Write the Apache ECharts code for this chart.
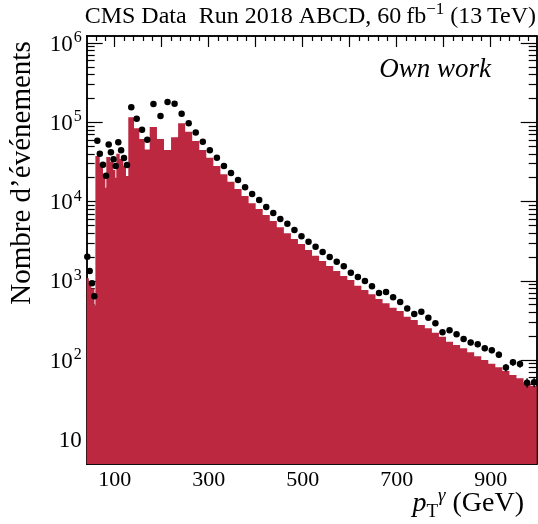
<!DOCTYPE html>
<html>
<head>
<meta charset="utf-8">
<script src="https://cdn.jsdelivr.net/npm/echarts@6/dist/echarts.min.js"></script>
<style>
html, body { margin: 0; padding: 0; background: #fff; }
#chart { width: 538px; height: 524px; }
</style>
</head>
<body>
<div id="chart"></div>
<script>
// bords des classes de la simulation (GeV) et nombre d'événements
var mcEdges = [40, 45, 50, 57, 59, 68.2, 75.2, 80.1, 82.2, 90.1, 97.1, 101.4, 103.5,
	110.7, 118.4, 124.1, 129, 141.2, 152.5, 164, 174.5, 190, 205, 220,
	235, 250, 265, 280, 295, 310, 325, 340, 355, 370, 385, 400, 415, 430, 445,
	460, 475, 490, 505, 520, 535, 550, 565, 580, 595, 610, 625, 640, 655, 670,
	685, 700, 715, 730, 745, 760, 775, 790, 805, 820, 835, 850, 865, 880, 895,
	910, 925, 940, 955, 970, 985, 1000];
var mcCounts = [1080, 940, 800, 490,
	37580, 30380, 21630, 14950,
	36490, 31830, 25010, 20000,
	40160, 34430, 28350, 21010,
	115660, 84000, 61540, 45380,
	87270, 61540, 44700,
	64680, 97140, 76110, 58070, 44730, 35750, 28090, 22070, 17810, 14400,
	11750, 9500, 8050, 6767, 5683, 4733, 3977, 3369, 2913, 2447,
	2073, 1777, 1538, 1329, 1150, 1023, 867, 766, 676, 589,
	520, 458, 416, 352, 320, 277, 252, 221, 197, 170,
	155, 141, 125, 112, 100, 90, 81, 73, 65, 59, 52, 47];

// points des données
var dataX = [41.8, 46.9, 51.8, 56.7,
	63.1, 68.4, 75.2, 81.6, 87.3, 92, 97.5, 102.2,
	107.7, 113.7, 119.9, 126.2, 135.4, 146.9, 158.2, 169.4,
	182.5, 197.5, 212.5, 227.5, 242.5, 257.5, 272.5, 287.5, 302.5, 317.5,
	332.5, 347.5, 362.5, 377.5, 392.5, 407.5, 422.5, 437.5, 452.5, 467.5,
	482.5, 497.5, 512.5, 527.5, 542.5, 557.5, 572.5, 587.5, 602.5, 617.5,
	632.5, 647.5, 662.5, 677.5, 692.5, 707.5, 722.5, 737.5, 752.5, 767.5,
	782.5, 797.5, 812.5, 827.5, 842.5, 857.5, 872.5, 887.5, 902.5, 917.5,
	932.5, 947.5, 962.5, 977.5, 992.5];
var dataY = [2014, 1329, 930, 637,
	58590, 40170, 29090, 21200, 52480, 41950, 34230, 28090,
	55920, 44460, 35440, 28920, 154680, 111000, 80640, 60310,
	170170, 120100, 180330, 171660, 128430, 97140, 74350, 56900, 44460, 35650,
	28090, 22930, 18700, 15120, 12450, 10460, 8535, 7172, 6023, 5254,
	4375, 3644, 3115, 2694, 2309, 1997, 1742, 1524, 1265, 1117,
	994, 852, 702, 722, 619, 540, 447, 381, 407, 341,
	291, 224, 237, 212, 184, 167, 158, 141, 133, 117,
	80.5, 93.7, 89.2, 51.9, 52.5];

// graduations
var xMajor = [100, 200, 300, 400, 500, 600, 700, 800, 900];
var xMinor = [60, 80, 120, 140, 160, 180, 220, 240, 260, 280, 320, 340, 360, 380,
	420, 440, 460, 480, 520, 540, 560, 580, 620, 640, 660, 680, 720, 740, 760, 780,
	820, 840, 860, 880, 920, 940, 960, 980];
var xLabels = [100, 300, 500, 700, 900];
var yMajor = [10, 100, 1000, 10000, 100000, 1000000];
var yMinor = [5, 6, 7, 8, 9, 20, 30, 40, 50, 60, 70, 80, 90,
	200, 300, 400, 500, 600, 700, 800, 900,
	2000, 3000, 4000, 5000, 6000, 7000, 8000, 9000,
	20000, 30000, 40000, 50000, 60000, 70000, 80000, 90000,
	200000, 300000, 400000, 500000, 600000, 700000, 800000, 900000];

var X_MIN = 40.5, X_MAX = 998;
var Y_MIN = 4.88, Y_MAX = 1.227e6;
var FONT = '"Liberation Serif", "DejaVu Serif", serif';
var RED = '#bd2841';

var chart = echarts.init(document.getElementById('chart'));

function xAx(pos, ticks, len, labels) {
	return {
		type: 'value', position: pos, min: X_MIN, max: X_MAX,
		splitLine: { show: false },
		axisLine: { show: true, onZero: false, lineStyle: { color: '#000', width: 1.5 } },
		axisTick: { show: true, inside: true, length: len, customValues: ticks,
			lineStyle: { color: '#000', width: 1.2 } },
		axisLabel: labels ? {
			show: true, customValues: labels, margin: 5,
			color: '#000', fontFamily: FONT, fontSize: 22
		} : { show: false }
	};
}

function yAx(pos, ticks, len, labels) {
	return {
		type: 'log', logBase: 10, position: pos, min: Y_MIN, max: Y_MAX,
		splitLine: { show: false },
		minorTick: { show: false },
		axisLine: { show: true, onZero: false, lineStyle: { color: '#000', width: 1.5 } },
		axisTick: { show: true, inside: true, length: len, customValues: ticks,
			lineStyle: { color: '#000', width: 1.2 } },
		axisLabel: labels ? {
			show: true, customValues: labels, margin: 5,
			formatter: function(v) {
				var e = Math.round(Math.log(v) / Math.LN10);
				return e === 1 ? '{m|10}' : '{m|10}{e|' + e + '}';
			},
			rich: {
				m: { color: '#000', fontFamily: FONT, fontSize: 23, verticalAlign: 'bottom', lineHeight: 26 },
				e: { color: '#000', fontFamily: FONT, fontSize: 16, verticalAlign: 'top', lineHeight: 26, padding: [0, 0, 0, 1] }
			}
		} : { show: false }
	};
}

var option = {
	animation: false,
	backgroundColor: '#fff',
	grid: { left: 86.7, right: 1.3, top: 36, bottom: 60, containLabel: false },
	xAxis: [
		xAx('bottom', xMajor, 11, xLabels),
		xAx('bottom', xMinor, 5, null),
		xAx('top', xMajor, 11, null),
		xAx('top', xMinor, 5, null)
	],
	yAxis: [
		yAx('left', yMajor, 16, yMajor),
		yAx('left', yMinor, 8, null),
		yAx('right', yMajor, 16, null),
		yAx('right', yMinor, 8, null)
	],
	graphic: [
		{
			type: 'text', right: 2, top: 1,
			style: {
				text: '{a|CMS Data  Run 2018 ABCD, 60\u2009fb}{s|\u22121}{a| (13\u2009TeV)}',
				rich: {
					a: { fontFamily: FONT, fontSize: 24, fill: '#000', verticalAlign: 'bottom', lineHeight: 28 },
					s: { fontFamily: FONT, fontSize: 17, fill: '#000', verticalAlign: 'top', lineHeight: 28 }
				}
			}
		},
		{
			type: 'text', x: 491, y: 70,
			style: {
				text: 'Own work', align: 'right', verticalAlign: 'middle',
				font: 'italic 27px ' + FONT, fill: '#000'
			}
		},
		{
			type: 'text', x: 22, y: 173, rotation: Math.PI / 2,
			style: {
				text: 'Nombre d\u2019\u00e9v\u00e9nements', align: 'center', verticalAlign: 'middle',
				font: '29px ' + FONT, fill: '#000'
			}
		},
		{
			type: 'text', right: 14, top: 486,
			style: {
				text: '{p|p}{t|T}{g|\u03b3}{r| (GeV)}',
				rich: {
					p: { fontFamily: FONT, fontStyle: 'italic', fontSize: 28, fill: '#000', verticalAlign: 'bottom', lineHeight: 32 },
					t: { fontFamily: FONT, fontSize: 19, fill: '#000', verticalAlign: 'bottom', lineHeight: 32, padding: [0, 0, -4, 0] },
					g: { fontFamily: FONT, fontStyle: 'italic', fontSize: 19, fill: '#000', verticalAlign: 'top', lineHeight: 32 },
					r: { fontFamily: FONT, fontSize: 28, fill: '#000', verticalAlign: 'bottom', lineHeight: 32 }
				}
			}
		}
	],
	series: [
		{
			// histogramme de la simulation, tracé comme un seul contour
			type: 'custom',
			coordinateSystem: 'cartesian2d',
			xAxisIndex: 0, yAxisIndex: 0,
			data: [[mcEdges[0], Y_MIN]],
			z: 1,
			renderItem: function(params, api) {
				var cs = params.coordSys;
				var left = cs.x, right = cs.x + cs.width;
				var bottom = api.coord([X_MIN, Y_MIN])[1];
				var clampX = function(x) { return Math.max(left, Math.min(right, x)); };
				var pts = [[clampX(api.coord([mcEdges[0], Y_MIN])[0]), bottom]];
				for (var i = 0; i < mcCounts.length; i++) {
					var a = api.coord([mcEdges[i], mcCounts[i]]);
					var b = api.coord([mcEdges[i + 1], mcCounts[i]]);
					pts.push([clampX(a[0]), a[1]]);
					pts.push([clampX(b[0]), b[1]]);
				}
				pts.push([clampX(api.coord([mcEdges[mcEdges.length - 1], Y_MIN])[0]), bottom]);
				return { type: 'polygon', shape: { points: pts }, style: { fill: RED, stroke: null } };
			}
		},
		{
			// barres d'erreur des données
			type: 'custom',
			coordinateSystem: 'cartesian2d',
			xAxisIndex: 0, yAxisIndex: 0,
			data: dataX.map(function(x, i) { return [x, dataY[i]]; }),
			z: 3,
			renderItem: function(params, api) {
				var x = api.value(0), y = api.value(1), s = Math.sqrt(y);
				var p1 = api.coord([x, y - s]);
				var p2 = api.coord([x, y + s]);
				return { type: 'line', shape: { x1: p1[0], y1: p1[1], x2: p2[0], y2: p2[1] },
					style: { stroke: '#000', lineWidth: 1.3 } };
			}
		},
		{
			type: 'scatter',
			xAxisIndex: 0, yAxisIndex: 0,
			data: dataX.map(function(x, i) { return [x, dataY[i]]; }),
			symbol: 'circle', symbolSize: 6.5,
			itemStyle: { color: '#000', opacity: 1 },
			z: 4
		}
	]
};
chart.setOption(option);
</script>
</body>
</html>
